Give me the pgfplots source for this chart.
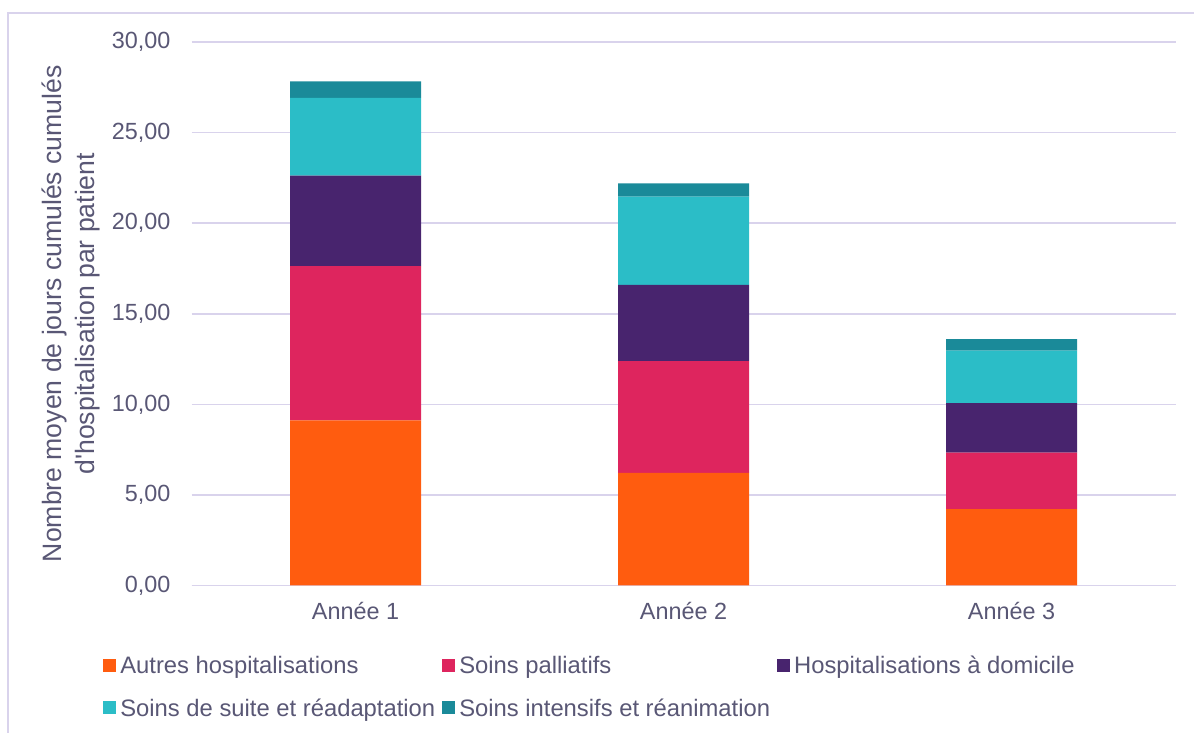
\documentclass[border=0pt]{standalone}
\usepackage{fontspec}
\setmainfont{Liberation Sans}
\usepackage{pgfplots}
\pgfplotsset{compat=1.18}
\definecolor{txt}{HTML}{595775}
\definecolor{gridc}{HTML}{D9D3EC}
\definecolor{c1}{HTML}{FF5C0F}
\definecolor{c2}{HTML}{DE255E}
\definecolor{c3}{HTML}{48246E}
\definecolor{c4}{HTML}{2BBDC7}
\definecolor{c5}{HTML}{1A8A99}
\begin{document}
\begin{tikzpicture}
\useasboundingbox (0,0) rectangle (597pt,366.5pt);
\draw[gridc, line width=1pt] (4pt,0) -- (4pt,360pt) -- (597pt,360pt);
\begin{axis}[
  at={(95.75pt,73.75pt)}, anchor=south west,
  scale only axis, width=492pt, height=271.75pt,
  ybar stacked, bar width=65.5pt,
  xmin=-0.5, xmax=2.5, ymin=0, ymax=30,
  xtick=data, xticklabels={Année 1, Année 2, Année 3},
  ytick={0,5,...,30},
  axis x line*=bottom, axis y line*=left,
  x axis line style={gridc, line width=0.8pt, -},
  y axis line style={draw=none},
  major tick length=0,
  ymajorgrids, grid style={gridc, line width=0.8pt},
  tick label style={font=\fontsize{11.7}{13}\selectfont, text=txt},
  yticklabel style={/pgf/number format/fixed, /pgf/number format/fixed zerofill, /pgf/number format/precision=2, /pgf/number format/use comma, /pgf/number format/assume math mode=true, xshift=-7pt},
  xticklabel style={yshift=-5pt},
  ylabel={Nombre moyen de jours cumulés cumulés\\d\textquotesingle hospitalisation par patient},
  ylabel style={at={(axis description cs:-0.122,0.5)}, anchor=center, align=center, font=\fontsize{13.3}{16.5}\selectfont, text=txt},
  legend columns=3,
  legend cell align=left,
  legend image code/.code={\fill[#1] (0pt,-2.6pt) rectangle (6.5pt,3.9pt);},
  legend style={at={(axis description cs:-0.09,-0.122)}, anchor=north west, draw=none, fill=none, inner sep=0pt, font=\fontsize{11.9}{13}\selectfont, text=txt, /tikz/row sep=7pt, /tikz/every even column/.append style={column sep=1.5pt}},
]
\addplot[fill=c1, draw=none] coordinates {(0,9.11) (1,6.21) (2,4.22)};
\addlegendentry{Autres hospitalisations}
\addplot[fill=c2, draw=none] coordinates {(0,8.52) (1,6.18) (2,3.11)};
\addlegendentry{Soins palliatifs}
\addplot[fill=c3, draw=none] coordinates {(0,4.99) (1,4.21) (2,2.73)};
\addlegendentry{Hospitalisations à domicile}
\addplot[fill=c4, draw=none] coordinates {(0,4.30) (1,4.86) (2,2.90)};
\addlegendentry{Soins de suite et réadaptation}
\addplot[fill=c5, draw=none] coordinates {(0,0.91) (1,0.74) (2,0.64)};
\addlegendentry{Soins intensifs et réanimation}
\end{axis}
\end{tikzpicture}
\end{document}
